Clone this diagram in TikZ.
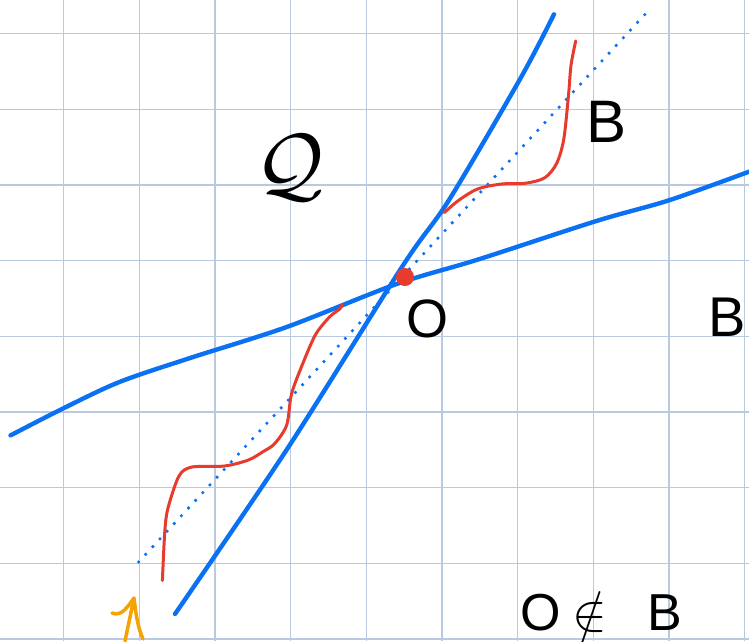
\RequirePackage{fix-cm}
\documentclass[tikz,border=0pt]{standalone}
\usepackage{fontspec}
\setsansfont{Liberation Sans}
\usepackage{tikz}
\definecolor{gridblue}{HTML}{B9C9E0}
\definecolor{penblue}{HTML}{0A72F2}
\definecolor{penred}{HTML}{E63B2D}
\definecolor{penorange}{HTML}{F6A200}
\tikzset{
  gridline/.style={gridblue, line width=1.3pt},
  blueline/.style={penblue, line width=4.4pt, line cap=round, line join=round},
  redline/.style={penred, line width=3pt, line cap=round, line join=round},
  dotline/.style={penblue, line width=3.6pt, line cap=round, dash pattern=on 0pt off 10.5pt},
  hand/.style={font=\sffamily\fontsize{60}{64}\selectfont, inner sep=0pt}
}
\begin{document}
\begin{tikzpicture}[x=1pt, y=-1pt]
  \useasboundingbox (0,0) rectangle (749,641);
  \fill[white] (0,0) rectangle (749,641);
  % Grid
  \foreach \i in {0,...,9} {
    \draw[gridline] ({63.5+75.7*\i},0) -- ({63.5+75.7*\i},641);
  }
  \foreach \j in {0,...,8} {
    \draw[gridline] (0,{33.5+75.7*\j}) -- (749,{33.5+75.7*\j});
  }
  % Dotted line through O
  \draw[dotline] (138.6,562) -- (645,14.3);
  % Steep line
  \draw[blueline] plot[smooth] coordinates {(175,614) (286.7,449.7) (402.8,265.7)
    (449,200) (520.8,77.7) (554,14.3)};
  % Shallow line
  \draw[blueline] plot[smooth] coordinates {(10.5,435.4) (62,409) (119.4,382)
    (191,357.7) (286.7,327) (396.6,284) (477.8,259.6) (597,220.8) (669,200.3) (749,171.7)};
  % Red curve, lower and upper pieces
  \draw[redline] plot[smooth] coordinates {(162.4,580.5) (164.8,531.5) (168,508)
    (179,476) (192,467) (224.6,466) (248.4,460) (262.8,451.8) (274.7,443.6)
    (286.7,425) (291.4,394.5) (301,368) (315.3,335) (329.7,316.8) (340,308.7) (342,304.6)};
  \draw[redline] plot[smooth] coordinates {(444.3,212.6) (458.7,200.3) (477.8,188.9)
    (501.7,184) (525.6,183.2) (544.7,177.8) (556.6,163.5) (563.8,139)
    (568.6,94) (571,65.4) (575.7,40.9)};
  % Point O
  \fill[penred] (405,277) circle (9pt);
  % Orange mark
  \draw[penorange, line width=3.5pt, line cap=round, line join=round]
    (112,613) .. controls (122,617) and (128,606) .. (134,598)
    (134,598) -- (125,641)
    (134,598) .. controls (136,615) and (138,628) .. (143,639);
  % Labels
  \node[hand, font=\fontsize{84}{88}\selectfont] (Q) at (290,168) {$\mathcal{Q}$};
  \node[hand] (B1) at (607,122) {B};
  \node[hand, font=\sffamily\fontsize{54}{58}\selectfont] (O) at (427,319) {O};
  \node[hand, font=\sffamily\fontsize{56}{60}\selectfont] (B2) at (727,317) {B};
  \node[hand, font=\sffamily\fontsize{52}{56}\selectfont, anchor=base west] (nin)
    at (520,630) {O\hspace{12pt}$\notin$\hspace{40pt}B};
\end{tikzpicture}
\end{document}
